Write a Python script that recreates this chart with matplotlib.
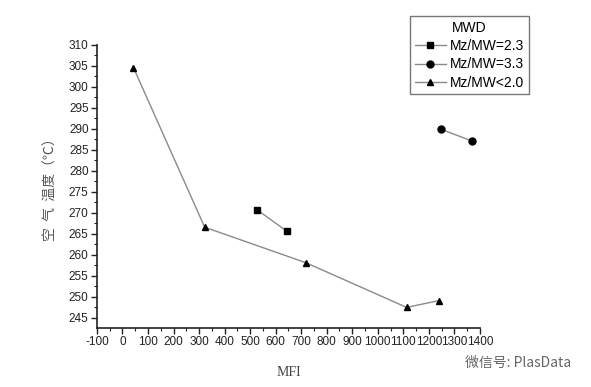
import matplotlib
matplotlib.use("Agg")
import matplotlib.pyplot as plt
from matplotlib.ticker import MultipleLocator

# data
mfi_23 = [528, 645]
temp_23 = [270.7, 265.6]

mfi_33 = [1248, 1370]
temp_33 = [289.9, 287.1]

mfi_20 = [43, 322, 720, 1113, 1238]
temp_20 = [304.6, 266.6, 258.1, 247.5, 249.1]

labels = ["Mz/MW=2.3", "Mz/MW=3.3", "Mz/MW<2.0"]

plt.rcParams['font.family'] = ['Liberation Sans', 'DejaVu Sans']
plt.rcParams['axes.unicode_minus'] = False

fig = plt.figure(figsize=(5.91, 3.87), dpi=100, facecolor='white')
ax = fig.add_axes([0.164, 0.1525, 0.648, 0.7315])

line_kw = dict(color='#8a8a8a', lw=1.0, mfc='black', mec='black')
l1, = ax.plot(mfi_23, temp_23, marker='s', ms=4.5, **line_kw)
l2, = ax.plot(mfi_33, temp_33, marker='o', ms=5, **line_kw)
l3, = ax.plot(mfi_20, temp_20, marker='^', ms=5, **line_kw)

ax.set_xlim(-100, 1400)
ax.set_ylim(242.6, 310)
ax.xaxis.set_major_locator(MultipleLocator(100))
ax.xaxis.set_minor_locator(MultipleLocator(50))
ax.yaxis.set_major_locator(MultipleLocator(5))
ax.yaxis.set_minor_locator(MultipleLocator(2.5))
ax.set_yticks([245, 250, 255, 260, 265, 270, 275, 280, 285, 290, 295, 300, 305, 310])

for s in ['top', 'right']:
    ax.spines[s].set_visible(False)
for s in ['left', 'bottom']:
    ax.spines[s].set_linewidth(1.2)
    ax.spines[s].set_color('#222222')

ax.tick_params(which='major', direction='out', length=4, width=1, labelsize=8.5,
               colors='#222222', pad=2)
ax.tick_params(which='minor', direction='out', length=2.5, width=0.8, colors='#222222')

ax.set_xlabel("MFI", family=['Liberation Serif', 'DejaVu Serif'], fontsize=10,
              color='#444444', labelpad=13)
ax.set_ylabel("空  气  温度（℃）", family=['Noto Sans CJK SC', 'DejaVu Sans'],
              fontsize=10, color='#555555', labelpad=8)

leg = fig.legend([l1, l2, l3], labels, title="MWD", loc='upper left',
                 bbox_to_anchor=(0.694, 0.958), fontsize=10, title_fontsize=10,
                 frameon=True, fancybox=False, edgecolor='#555555',
                 handlelength=2.2, handletextpad=0.3, borderpad=0.35,
                 labelspacing=0.3, borderaxespad=0)
leg.get_frame().set_linewidth(1.0)

fig.text(0.787, 0.063, "微信号: PlasData", family=['Noto Sans CJK SC', 'DejaVu Sans'],
         fontsize=10, color='#666666', va='center')

fig.savefig("out.png", dpi=100, facecolor='white')
